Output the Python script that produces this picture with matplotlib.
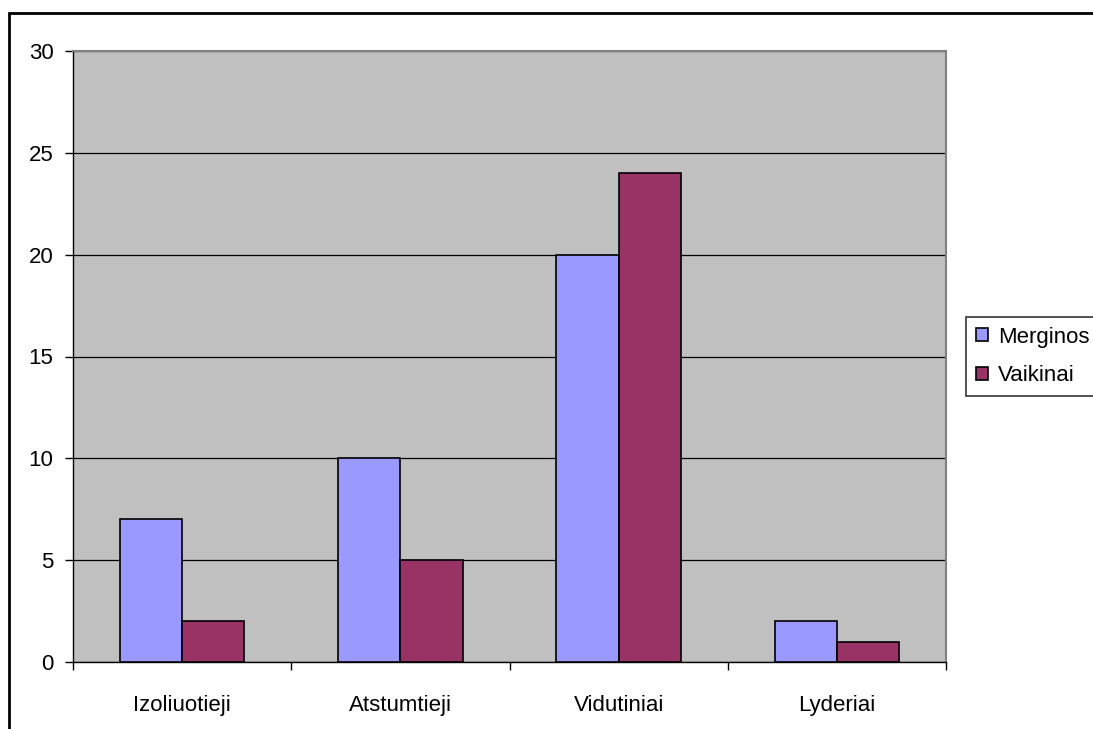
import numpy as np
import matplotlib.pyplot as plt
from matplotlib.patches import Rectangle

plt.rcParams['font.family'] = ['Liberation Sans', 'DejaVu Sans']

# Duomenys
kategorijos = ["Izoliuotieji", "Atstumtieji", "Vidutiniai", "Lyderiai"]
merginos = [7, 10, 20, 2]
vaikinai = [2, 5, 24, 1]

fig = plt.figure(figsize=(10.93, 7.29), dpi=100)
fig.patch.set_facecolor("white")

# Rėmelis aplink visą diagramą (išeina už dešinio ir apatinio krašto)
fig.patches.append(Rectangle((9 / 1093, -0.1), 1.2, 1 - 13 / 729 + 0.1,
                             transform=fig.transFigure, fill=False,
                             edgecolor="black", linewidth=2))

ax = fig.add_axes([73 / 1093, 1 - 662 / 729, 873 / 1093, 611 / 729])
ax.set_facecolor("#C0C0C0")

x = np.arange(len(kategorijos))
plotis = 1 / 3.5
ax.bar(x - plotis / 2, merginos, width=plotis, color="#9999FF",
       edgecolor="black", linewidth=1.2, label="Merginos", zorder=3)
ax.bar(x + plotis / 2, vaikinai, width=plotis, color="#993366",
       edgecolor="black", linewidth=1.2, label="Vaikinai", zorder=3)

ax.set_xlim(-0.5, len(kategorijos) - 0.5)
ax.set_ylim(0, 30)
ax.set_yticks(np.arange(0, 31, 5))
ax.yaxis.grid(True, color="black", linewidth=0.9, zorder=1)
ax.set_axisbelow(True)

ax.set_xticks(x)
ax.set_xticklabels(kategorijos, fontsize=16)
ax.tick_params(axis="x", length=0, pad=24)
ax.set_xticks(np.arange(-0.5, len(kategorijos)), minor=True)
ax.tick_params(axis="x", which="minor", length=6, direction="out", width=1)
ax.tick_params(axis="y", labelsize=16, length=6, width=1, pad=8)

for k in ["top", "right"]:
    ax.spines[k].set_color("#808080")
    ax.spines[k].set_linewidth(1.5)
for k in ["left", "bottom"]:
    ax.spines[k].set_color("black")
    ax.spines[k].set_linewidth(1)

leg = ax.legend(loc="center left", bbox_to_anchor=(1.023, 0.5),
                fontsize=16, frameon=True, fancybox=False,
                edgecolor="black", handlelength=0.55, handleheight=0.55,
                handletextpad=0.45, borderpad=0.45, labelspacing=0.8,
                borderaxespad=0)
leg.get_frame().set_linewidth(1.2)

fig.savefig("out.png", dpi=100)
